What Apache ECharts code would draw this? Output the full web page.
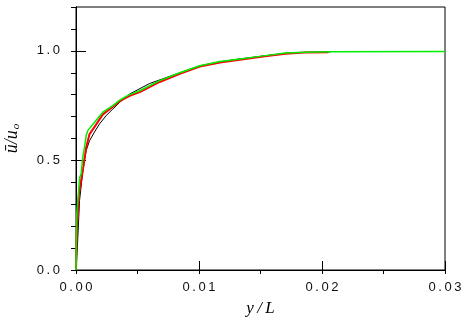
<!DOCTYPE html>
<html><head><meta charset="utf-8">
<script src="https://cdn.jsdelivr.net/npm/echarts@6/dist/echarts.min.js"></script>
<style>html,body{margin:0;padding:0;background:#fff}#c{width:472px;height:324px}</style>
</head><body><div id="c"></div>
<script>
// Data
var blackX = [0, 0.000065, 0.00015, 0.00029, 0.00055, 0.00069, 0.00083, 0.0011, 0.00151, 0.00192, 0.00246, 0.0030, 0.00355, 0.00436, 0.00599, 0.00844, 0.01007, 0.0117, 0.01317, 0.0152, 0.017, 0.0186, 0.0207];
var blackU = [0, 0.06, 0.15, 0.318, 0.447, 0.50, 0.545, 0.59, 0.63, 0.667, 0.705, 0.735, 0.765, 0.803, 0.851, 0.90, 0.932, 0.95, 0.962, 0.976, 0.988, 0.993, 0.995];
var redX = [0, 0.00008, 0.00024, 0.00055, 0.00083, 0.0011, 0.00159, 0.00218, 0.0030, 0.00355, 0.00436, 0.00518, 0.0068, 0.00844, 0.01007, 0.0117, 0.01317, 0.0152, 0.017, 0.0186, 0.0205];
var redU = [0, 0.20, 0.35, 0.455, 0.56, 0.62, 0.66, 0.71, 0.745, 0.77, 0.795, 0.812, 0.858, 0.895, 0.928, 0.947, 0.958, 0.974, 0.987, 0.992, 0.993];
var greenX = [0, 0.00002, 0.000065, 0.0002, 0.00029, 0.00042, 0.00055, 0.00069, 0.00083, 0.00096, 0.00151, 0.00218, 0.0030, 0.00355, 0.00426, 0.00518, 0.0068, 0.00844, 0.01007, 0.0117, 0.01319, 0.01523, 0.017, 0.01863, 0.02067, 0.03];
var greenU = [0, 0.15, 0.26, 0.35, 0.42, 0.44, 0.515, 0.56, 0.614, 0.636, 0.674, 0.72, 0.75, 0.775, 0.798, 0.818, 0.864, 0.90, 0.932, 0.951, 0.962, 0.977, 0.99, 0.994, 0.996, 0.997];
var xTicks = [0, 0.01, 0.02, 0.03];
var yTicks = [0.0, 0.5, 1.0];

function pairs(xs, ys) { return xs.map(function (x, i) { return [x, ys[i]]; }); }
function spaced(s) { return s.split('').join('\u2009'); }

var labelFont = { fontFamily: 'Liberation Sans', fontSize: 13, color: '#111' };
var chart = echarts.init(document.getElementById('c'));
var xBase = { type: 'value', min: 0, max: 0.03, splitLine: { show: false }, axisLine: { lineStyle: { color: '#000', width: 1 } } };
var yBase = { type: 'value', min: 0, max: 1.2, splitLine: { show: false }, axisLine: { lineStyle: { color: '#000', width: 1 } } };
chart.setOption({
  animation: false,
  grid: { left: 76, right: 27, top: 7, bottom: 54, show: true, borderColor: '#000', borderWidth: 1, backgroundColor: 'transparent', containLabel: false, outerBoundsMode: 'none' },
  xAxis: [
    Object.assign({}, xBase, {
      interval: 0.01,
      axisTick: { inside: true, length: 9, lineStyle: { color: '#000' } },
      axisLabel: Object.assign({ margin: 11, formatter: function (v) { return xTicks.indexOf(+v.toFixed(3)) >= 0 ? spaced(v.toFixed(2)) : ''; } }, labelFont),
      name: 'y\u2009/\u2009L', nameLocation: 'middle', nameGap: 30,
      nameTextStyle: { fontFamily: 'Liberation Serif', fontStyle: 'italic', fontSize: 17, color: '#000' }
    }),
    Object.assign({}, xBase, {
      interval: 0.005,
      axisTick: { inside: true, length: 4, lineStyle: { color: '#000' } },
      axisLabel: { show: false }
    })
  ],
  yAxis: [
    Object.assign({}, yBase, {
      interval: 0.5,
      axisTick: { inside: true, length: 10, lineStyle: { color: '#000' } },
      axisLabel: Object.assign({ margin: 16, showMaxLabel: false, formatter: function (v) { return yTicks.indexOf(+v.toFixed(1)) >= 0 ? spaced(v.toFixed(1)) : ''; } }, labelFont),
      name: '{a|\u016b/u}{s|o}', nameLocation: 'middle', nameGap: 54, nameRotate: 90,
      nameTextStyle: {
        rich: {
          a: { fontFamily: 'Liberation Serif', fontStyle: 'italic', fontSize: 18, color: '#000' },
          s: { fontFamily: 'Liberation Serif', fontStyle: 'italic', fontSize: 11, color: '#000', padding: [8, 0, 0, 1] }
        }
      }
    }),
    Object.assign({}, yBase, {
      interval: 0.1,
      axisTick: { inside: true, length: 5, lineStyle: { color: '#000' } },
      axisLabel: { show: false }
    })
  ],
  series: [
    { type: 'line', name: 'black', data: pairs(blackX, blackU), showSymbol: false, symbol: 'none', lineStyle: { color: '#000', width: 1 }, z: 2 },
    { type: 'line', name: 'red', data: pairs(redX, redU), showSymbol: false, symbol: 'none', lineStyle: { color: '#ff0000', width: 2 }, z: 3 },
    { type: 'line', name: 'green', data: pairs(greenX, greenU), showSymbol: false, symbol: 'none', lineStyle: { color: '#00ee00', width: 1.5 }, z: 4 }
  ]
});
</script></body></html>
